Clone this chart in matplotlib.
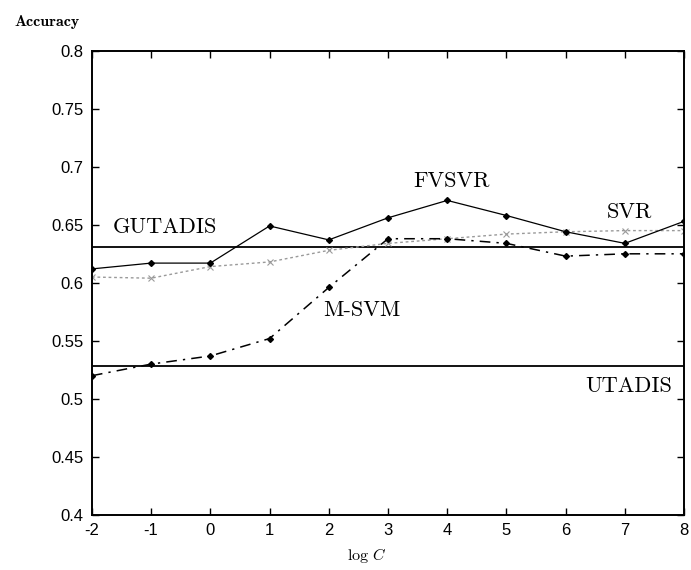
import matplotlib
matplotlib.use("Agg")
import matplotlib.pyplot as plt

log_c = [-2, -1, 0, 1, 2, 3, 4, 5, 6, 7, 8]
fvsvr = [0.612, 0.617, 0.617, 0.649, 0.637, 0.656, 0.671, 0.658, 0.644, 0.634, 0.653]
svr = [0.605, 0.604, 0.614, 0.618, 0.628, 0.634, 0.638, 0.642, 0.644, 0.645, 0.645]
msvm = [0.520, 0.530, 0.537, 0.552, 0.596, 0.638, 0.638, 0.634, 0.623, 0.625, 0.625]
gutadis = 0.631
utadis = 0.528

xticks = [-2, -1, 0, 1, 2, 3, 4, 5, 6, 7, 8]
xticklabels = ["-2", "-1", "0", "1", "2", "3", "4", "5", "6", "7", "8"]
yticks = [0.4, 0.45, 0.5, 0.55, 0.6, 0.65, 0.7, 0.75, 0.8]
yticklabels = ["0.4", "0.45", "0.5", "0.55", "0.6", "0.65", "0.7", "0.75", "0.8"]

plt.rcParams["mathtext.fontset"] = "cm"

fig = plt.figure(figsize=(6.91, 5.70), dpi=100)
ax = fig.add_axes([0.133, 0.0965, 0.857, 0.8146])

ax.axhline(gutadis, color="black", lw=1.3)
ax.axhline(utadis, color="black", lw=1.3)
ax.plot(log_c, svr, color="#9a9a9a", lw=1.0, ls=(0, (2, 2)), marker="x", ms=4, mew=0.8)
ax.plot(log_c, msvm, color="black", lw=1.1, ls=(0, (7, 4, 1.5, 4)), marker="D", ms=3)
ax.plot(log_c, fvsvr, color="black", lw=0.9, ls="-", marker="D", ms=3)

ax.set_xlim(-2, 8)
ax.set_ylim(0.4, 0.8)
ax.set_xticks(xticks)
ax.set_xticklabels(xticklabels)
ax.set_yticks(yticks)
ax.set_yticklabels(yticklabels)
ax.tick_params(direction="in", top=True, right=True, length=5, width=1,
               labelsize=12)
ax.tick_params(axis="x", pad=6)
ax.tick_params(axis="y", pad=6)
for lbl in ax.get_xticklabels() + ax.get_yticklabels():
    lbl.set_fontfamily("Liberation Sans")
for s in ax.spines.values():
    s.set_linewidth(1.4)

tk = dict(fontfamily="cmr10", fontsize=16, ha="center", va="center")
ax.text(-0.77, 0.648, "GUTADIS", **tk)
ax.text(4.07, 0.6877, "FVSVR", **tk)
ax.text(7.07, 0.6606, "SVR", **tk)
ax.text(2.56, 0.5766, "M-SVM", **tk)
ax.text(7.07, 0.511, "UTADIS", **tk)

fig.text(0.0687, 0.961, "Accuracy", fontfamily="cmb10", fontsize=11.5, ha="center", va="center")
fig.text(0.531, 0.0246, r"$\mathrm{log}\ C$", fontsize=11.5, ha="center", va="center")

fig.savefig("out.png", dpi=100)
